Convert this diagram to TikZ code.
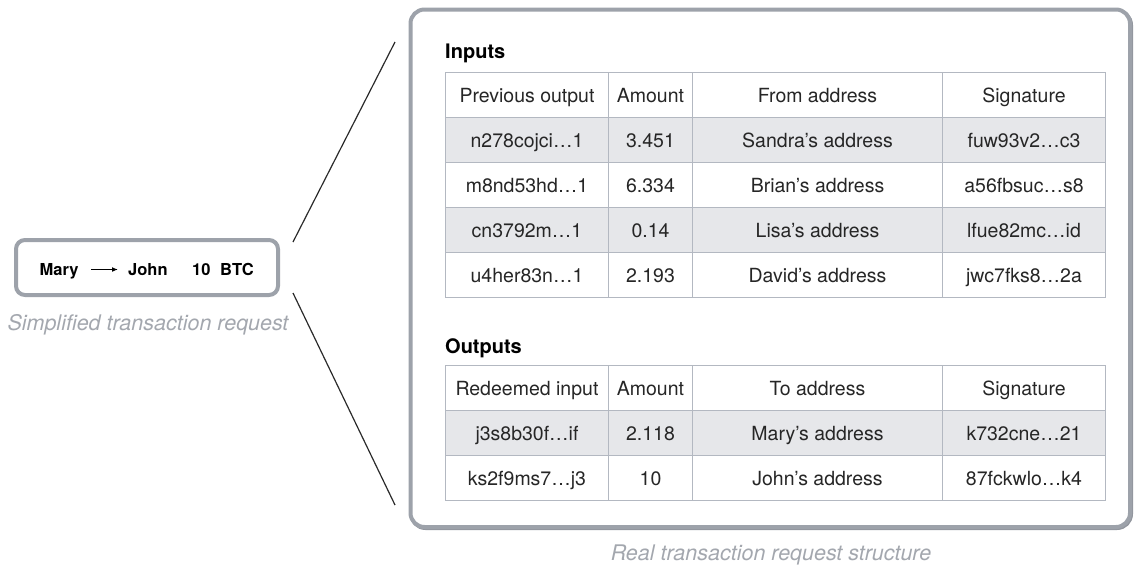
\documentclass[tikz,border=0pt]{standalone}
\usepackage{fontspec}
\setmainfont{TeX Gyre Heros}
\usetikzlibrary{arrows.meta,calc}
\definecolor{framec}{HTML}{9DA2AA}
\definecolor{shadowc}{HTML}{92969E}
\definecolor{gridc}{HTML}{B3B8C1}
\definecolor{rowfill}{HTML}{E6E7EA}
\definecolor{capc}{HTML}{A3A7AE}
\definecolor{linec}{HTML}{2A2A2A}
\begin{document}
\begin{tikzpicture}[x=1pt,y=-1pt,
  cell/.style={draw=gridc, line width=1pt, inner sep=0pt, anchor=north west,
    minimum height=45pt, text height=15pt, text depth=0pt,
    font=\fontsize{19.5}{23}\selectfont, text=black!85},
  title/.style={anchor=base west, inner sep=0pt, font=\fontsize{20}{24}\selectfont\bfseries},
  caption/.style={anchor=base, inner sep=0pt, text=capc, font=\fontsize{21.5}{25}\selectfont\itshape},
  reqtext/.style={anchor=base west, inner sep=0pt, font=\fontsize{16.5}{19}\selectfont\bfseries},
  frame/.style={draw=framec, line width=4pt, rounded corners=14pt},
  connector/.style={draw=linec, line width=1.2pt}
]
\useasboundingbox (0,0) rectangle (1144,571);

% left simplified request box
\node[frame, rounded corners=9pt, minimum width=262pt, minimum height=55pt, inner sep=0pt]
  (req) at (147,267.5) {};
\node[reqtext] (mary) at (39.5,275) {Mary};
\node[reqtext] (john) at (128,275) {John};
\node[reqtext] (btc) at (192,275) {10\hspace{5pt} BTC};
\draw[line width=1.2pt, -{Latex[length=6pt,width=5pt]}]
  ($(mary.base east)+(12.5,-5.5)$) -- ($(john.base west)+(-10,-5.5)$);
\node[caption] (simpcap) at (148,330) {Simplified transaction request};

% outer frame
\draw[draw=shadowc, line width=4pt, rounded corners=14pt] (411.5,11) rectangle (1131,528);
\node[frame, minimum width=719.5pt, minimum height=517.5pt, inner sep=0pt, fill=white]
  (real) at (770.25,268.25) {};
\node[caption] (realcap) at (771,560) {Real transaction request structure};

% connectors
\coordinate (ustart) at (293,242);
\coordinate (uend) at (395,42);
\coordinate (lstart) at (293,293);
\coordinate (lend) at (395,505);
\draw[connector] (ustart) -- (uend);
\draw[connector] (lstart) -- (lend);

% Inputs table
\node[title] (intitle) at (445,58) {Inputs};
\foreach \r/\f/\a/\b/\c/\d in {
  0/white/Previous output/Amount/From address/Signature,
  1/rowfill/n278cojci…1/3.451/Sandra’s address/fuw93v2…c3,
  2/white/m8nd53hd…1/6.334/Brian’s address/a56fbsuc…s8,
  3/rowfill/cn3792m…1/0.14/Lisa’s address/lfue82mc…id,
  4/white/u4her83n…1/2.193/David’s address/jwc7fks8…2a}{
  \node[cell, fill=\f, minimum width=163pt] (in-\r-1) at (445,{72+45*\r}) {\a};
  \node[cell, fill=\f, minimum width=84pt] (in-\r-2) at (608,{72+45*\r}) {\b};
  \node[cell, fill=\f, minimum width=250pt] (in-\r-3) at (692,{72+45*\r}) {\c};
  \node[cell, fill=\f, minimum width=163pt] (in-\r-4) at (942,{72+45*\r}) {\d};
}

% Outputs table
\node[title] (outtitle) at (445,353) {Outputs};
\foreach \r/\f/\a/\b/\c/\d in {
  0/white/Redeemed input/Amount/To address/Signature,
  1/rowfill/j3s8b30f…if/2.118/Mary’s address/k732cne…21,
  2/white/ks2f9ms7…j3/10/John’s address/87fckwlo…k4}{
  \node[cell, fill=\f, minimum width=163pt] (out-\r-1) at (445,{365+45*\r}) {\a};
  \node[cell, fill=\f, minimum width=84pt] (out-\r-2) at (608,{365+45*\r}) {\b};
  \node[cell, fill=\f, minimum width=250pt] (out-\r-3) at (692,{365+45*\r}) {\c};
  \node[cell, fill=\f, minimum width=163pt] (out-\r-4) at (942,{365+45*\r}) {\d};
}
\end{tikzpicture}
\end{document}
